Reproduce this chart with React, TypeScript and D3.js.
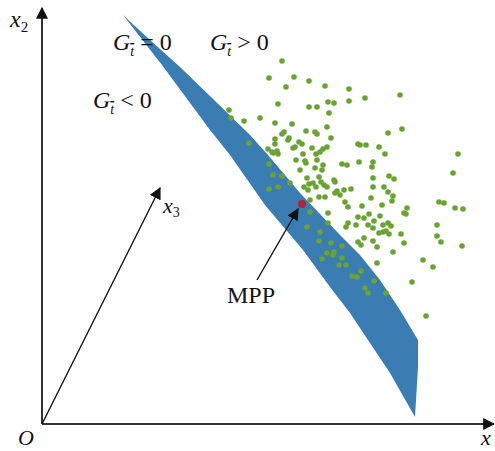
import React from 'react'
import * as d3 from 'd3'

// limit-state surface outline (x1, x2 in axis units from origin O)
const upperEdge: [number, number][] = [
  [81, 409], [108, 384], [138, 357], [168, 328], [208, 289], [226, 269], [258, 231],
  [298, 189], [318, 169], [338, 144], [358, 114], [376, 84], [376, 57], [373, 7],
]
const lowerEdge: [number, number][] = [
  [81, 409], [120, 359], [168, 294], [188, 269], [223, 219], [261, 174], [288, 137],
  [308, 111], [348, 51], [373, 7],
]

// sample points
const samples: [number, number][] = [
  [240, 363], [227, 346], [252, 347], [267, 343], [244, 337], [283, 338], [236, 320], [267, 317],
  [275, 317], [286, 322], [292, 321], [287, 311], [187, 314], [189, 306], [202, 303], [218, 306],
  [233, 301], [250, 300], [285, 297], [242, 292], [240, 290], [247, 286], [246, 284], [233, 285],
  [264, 293], [273, 292], [275, 290], [289, 286], [207, 281], [233, 280], [257, 282], [260, 280],
  [253, 277], [251, 276], [270, 276], [285, 277], [281, 275], [278, 272], [226, 275], [230, 272],
  [235, 273], [236, 270], [274, 270], [261, 270],
  [307, 335], [307, 323], [323, 326], [358, 329], [360, 295], [346, 291], [316, 280], [318, 279],
  [324, 279], [337, 277], [343, 270], [416, 270],
  [254, 264], [263, 263], [264, 261], [275, 264], [227, 260], [273, 256], [281, 259], [258, 254],
  [280, 254], [231, 249], [240, 248], [265, 246], [277, 247], [248, 241], [267, 240], [271, 241],
  [279, 242], [282, 239], [285, 237], [292, 244], [293, 242], [227, 235], [236, 237], [262, 237],
  [266, 234], [274, 237], [295, 233], [277, 227], [283, 227], [293, 231], [286, 211], [265, 197],
  [286, 201], [277, 183], [289, 181], [231, 271], [268, 224], [268, 212], [278, 192],
  [300, 260], [305, 259], [317, 262], [331, 262], [330, 257], [411, 251], [331, 246], [347, 248],
  [352, 245], [331, 237], [342, 237], [346, 232], [351, 228], [350, 223], [329, 226], [309, 235],
  [302, 234], [298, 229], [303, 222], [306, 217], [320, 218], [340, 219], [365, 216], [362, 211],
  [364, 210], [397, 222], [402, 221], [413, 216], [421, 215], [395, 199], [395, 188], [399, 182],
  [420, 178], [316, 207], [322, 206], [327, 210], [338, 208], [332, 203], [306, 201], [304, 197],
  [314, 199], [326, 199], [331, 196], [341, 199], [346, 201], [349, 198], [337, 191], [341, 192],
  [344, 193], [347, 190], [359, 190], [322, 186], [316, 182], [319, 179], [331, 183], [335, 177],
  [362, 181], [300, 178],
  [285, 171], [291, 169], [292, 172], [280, 165], [300, 166], [297, 159], [304, 159], [310, 148],
  [315, 147], [319, 153], [332, 143], [323, 136], [326, 131], [344, 131], [335, 161], [351, 172],
  [370, 142], [381, 164], [391, 157], [384, 108],
]

const mpp: [number, number] = [260, 220]
const x3Tip: [number, number] = [118, 236]
const mppArrow: [number, number][] = [[215, 144], [256, 215]]

const W = 495
const H = 451

const serif = '"Liberation Serif", "Times New Roman", serif'

function Gt({ x, y, rel }: { x: number; y: number; rel: string }) {
  return (
    <text x={x} y={y} fontFamily={serif} fontSize={24} fill="#111">
      <tspan fontStyle="italic">G</tspan>
      <tspan fontStyle="italic" fontSize={14} dy={6} textDecoration="overline">t</tspan>
      <tspan dy={-6}>{` ${rel} 0`}</tspan>
    </text>
  )
}

export default function App() {
  const x = d3.scaleLinear().domain([0, 452]).range([42, 494])
  const y = d3.scaleLinear().domain([0, 416]).range([424, 8])

  const band = d3
    .line<[number, number]>()
    .x(d => x(d[0]))
    .y(d => y(d[1]))([...upperEdge, ...lowerEdge.slice().reverse()]) + 'Z'

  return (
    <svg width={W} height={H} style={{ position: 'absolute', left: 0, top: 0, background: '#fff' }}>
      <defs>
        <marker id="bigHead" viewBox="0 0 10 10" refX="9" refY="5" markerWidth="12" markerHeight="12"
          markerUnits="userSpaceOnUse" orient="auto">
          <path d="M0,0 L10,5 L0,10 Z" fill="#111" />
        </marker>
      </defs>

      {/* axes */}
      <line x1={x(0)} y1={y(0)} x2={x(0)} y2={y(416)} stroke="#333" strokeWidth={2} markerEnd="url(#bigHead)" />
      <line x1={x(0)} y1={y(0)} x2={x(452)} y2={y(0)} stroke="#333" strokeWidth={2} markerEnd="url(#bigHead)" />
      <line x1={x(0)} y1={y(0)} x2={x(x3Tip[0])} y2={y(x3Tip[1])} stroke="#111" strokeWidth={1.4} markerEnd="url(#bigHead)" />

      {/* surface */}
      <path d={band} fill="#3a7db2" />

      {samples.map((d, i) => (
        <circle key={i} cx={x(d[0])} cy={y(d[1])} r={2.8} fill="#6aa332" />
      ))}

      <circle cx={x(mpp[0])} cy={y(mpp[1])} r={4} fill="#b3223c" />

      <line x1={x(mppArrow[0][0])} y1={y(mppArrow[0][1])} x2={x(mppArrow[1][0])} y2={y(mppArrow[1][1])}
        stroke="#111" strokeWidth={1.4} markerEnd="url(#bigHead)" />

      {/* labels */}
      <text x={x(-32)} y={y(397)} fontFamily={serif} fontSize={24} fill="#111">
        <tspan fontStyle="italic">x</tspan>
        <tspan fontSize={15} dy={5}>2</tspan>
      </text>
      <text x={x(121)} y={y(211)} fontFamily={serif} fontSize={22} fill="#111">
        <tspan fontStyle="italic">x</tspan>
        <tspan fontSize={14} dy={4}>3</tspan>
      </text>
      <text x={x(-24)} y={y(-21)} fontFamily={serif} fontSize={22} fontStyle="italic" fill="#111">O</text>
      <text x={x(439)} y={y(-21)} fontFamily={serif} fontSize={22} fontStyle="italic" fill="#111">x</text>

      <Gt x={x(71)} y={y(374)} rel="=" />
      <Gt x={x(168)} y={y(374)} rel=">" />
      <Gt x={x(51)} y={y(316)} rel="<" />

      <text x={x(185)} y={y(121)} fontFamily={serif} fontSize={24} fill="#111">MPP</text>
    </svg>
  )
}
